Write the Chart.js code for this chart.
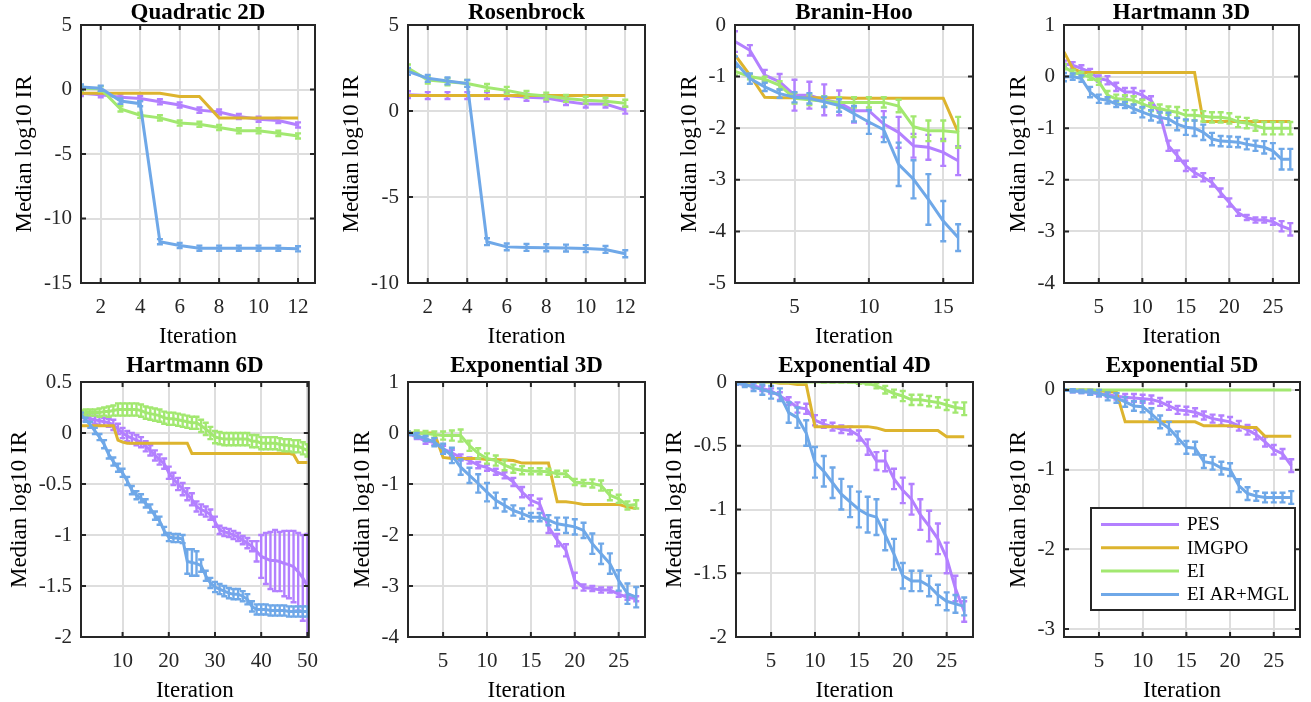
<!DOCTYPE html>
<html>
<head>
<meta charset="utf-8">
<script src="https://cdn.jsdelivr.net/npm/chart.js@4.4.1/dist/chart.umd.min.js"></script>
<style>
html, body { margin: 0; padding: 0; background: #fff; }
body { width: 1311px; height: 702px; overflow: hidden; position: relative; }
canvas { position: absolute; }
</style>
</head>
<body>
<script>
// methods, in legend order
var methods = ['PES', 'IMGPO', 'EI', 'EI AR+MGL'];

// Quadratic 2D
var quadXTicks = [2, 4, 6, 8, 10, 12];
var quadYTicks = [-15, -10, -5, 0, 5];
var quadPES   = [-0.3, -0.4, -0.6, -0.7, -0.95, -1.2, -1.6, -1.75, -2.1, -2.3, -2.4, -2.75];
var quadIMGPO = [-0.3, -0.3, -0.3, -0.3, -0.3, -0.55, -0.55, -2.2, -2.2, -2.2, -2.2, -2.2];
var quadEI    = [0.1, 0.05, -1.5, -2.0, -2.2, -2.6, -2.7, -2.95, -3.2, -3.2, -3.4, -3.6];
var quadAR    = [0.2, 0.1, -0.9, -1.1, -11.8, -12.1, -12.3, -12.3, -12.3, -12.3, -12.3, -12.35];
var quadErr   = [0.2, 0.2, 0.2, 0.2, 0.2, 0.2, 0.2, 0.2, 0.2, 0.2, 0.2, 0.2];

// Rosenbrock
var rosXTicks = [2, 4, 6, 8, 10, 12];
var rosYTicks = [-10, -5, 0, 5];
var rosPES   = [0.95, 0.9, 0.9, 0.9, 0.9, 0.9, 0.8, 0.75, 0.55, 0.4, 0.4, 0.05];
var rosIMGPO = [0.9, 0.9, 0.9, 0.9, 0.9, 0.9, 0.9, 0.9, 0.9, 0.9, 0.9, 0.9];
var rosEI    = [2.5, 1.8, 1.7, 1.6, 1.37, 1.2, 0.97, 0.87, 0.73, 0.63, 0.57, 0.45];
var rosAR    = [2.3, 1.9, 1.75, 1.6, -7.6, -7.9, -7.93, -7.95, -7.97, -8.0, -8.05, -8.3];
var rosErr   = [0.2, 0.2, 0.2, 0.2, 0.2, 0.2, 0.2, 0.2, 0.2, 0.2, 0.2, 0.2];

// Branin-Hoo
var brXTicks = [5, 10, 15];
var brYTicks = [-5, -4, -3, -2, -1, 0];
var brPES   = [-0.32, -0.49, -0.97, -1.1, -1.36, -1.36, -1.45, -1.51, -1.66, -1.66, -1.92, -2.08, -2.34, -2.37, -2.47, -2.63];
var brIMGPO = [-0.58, -0.97, -1.4, -1.41, -1.41, -1.41, -1.41, -1.41, -1.42, -1.42, -1.42, -1.42, -1.42, -1.42, -1.42, -2.08];
var brEI    = [-0.9, -1.0, -1.05, -1.17, -1.42, -1.45, -1.48, -1.5, -1.5, -1.5, -1.5, -1.57, -1.97, -2.05, -2.05, -2.08];
var brAR    = [-0.71, -1.04, -1.2, -1.33, -1.4, -1.42, -1.49, -1.56, -1.72, -1.88, -2.03, -2.7, -2.99, -3.38, -3.8, -4.12];
var brPESErr = [0.2, 0.1, 0.1, 0.15, 0.3, 0.26, 0.3, 0.24, 0.23, 0.25, 0.25, 0.3, 0.23, 0.24, 0.26, 0.28];
var brEIErr  = [0.08, 0.05, 0.05, 0.08, 0.1, 0.1, 0.1, 0.1, 0.1, 0.1, 0.1, 0.12, 0.2, 0.2, 0.2, 0.3];
var brARErr  = [0.1, 0.1, 0.08, 0.08, 0.1, 0.1, 0.1, 0.12, 0.15, 0.23, 0.24, 0.42, 0.37, 0.49, 0.39, 0.26];

// Hartmann 3D
var h3XTicks = [5, 10, 15, 20, 25];
var h3YTicks = [-4, -3, -2, -1, 0, 1];
var h3PES   = [0.25, 0.22, 0.16, 0.09, -0.04, -0.07, -0.2, -0.3, -0.3, -0.36, -0.46, -0.72, -1.34, -1.53, -1.73, -1.86, -1.95, -2.05, -2.25, -2.44, -2.64, -2.73, -2.78, -2.78, -2.81, -2.9, -2.96];
var h3IMGPO = [0.48, 0.16, 0.08, 0.08, 0.08, 0.08, 0.08, 0.08, 0.08, 0.08, 0.08, 0.08, 0.08, 0.08, 0.08, 0.08, -0.87, -0.87, -0.87, -0.87, -0.87, -0.87, -0.87, -0.87, -0.87, -0.87, -0.87];
var h3EI    = [0.19, 0.08, 0.04, -0.01, -0.1, -0.36, -0.43, -0.44, -0.46, -0.53, -0.59, -0.62, -0.66, -0.69, -0.75, -0.75, -0.77, -0.79, -0.79, -0.81, -0.88, -0.9, -0.95, -1.0, -1.0, -1.0, -1.0];
var h3AR    = [-0.01, 0, -0.04, -0.3, -0.43, -0.46, -0.53, -0.55, -0.62, -0.69, -0.75, -0.79, -0.82, -0.92, -0.98, -1.0, -1.08, -1.21, -1.25, -1.26, -1.27, -1.31, -1.34, -1.37, -1.44, -1.6, -1.6];
var h3PESErr = [0.06, 0.06, 0.06, 0.06, 0.06, 0.08, 0.08, 0.08, 0.08, 0.08, 0.08, 0.08, 0.1, 0.1, 0.1, 0.08, 0.08, 0.08, 0.08, 0.08, 0.06, 0.05, 0.05, 0.05, 0.06, 0.1, 0.12];
var h3EIErr  = [0.05, 0.05, 0.05, 0.05, 0.06, 0.08, 0.08, 0.08, 0.08, 0.08, 0.08, 0.08, 0.08, 0.1, 0.1, 0.1, 0.1, 0.1, 0.1, 0.1, 0.1, 0.1, 0.1, 0.12, 0.12, 0.12, 0.12];
var h3ARErr  = [0.08, 0.06, 0.06, 0.1, 0.08, 0.06, 0.06, 0.06, 0.08, 0.1, 0.1, 0.1, 0.12, 0.12, 0.15, 0.15, 0.15, 0.12, 0.1, 0.1, 0.1, 0.1, 0.1, 0.12, 0.15, 0.2, 0.2];

// Hartmann 6D
var h6XTicks = [10, 20, 30, 40, 50];
var h6YTicks = [-2, -1.5, -1, -0.5, 0, 0.5];
var h6PES = [0.18, 0.15, 0.14, 0.13, 0.12, 0.11, 0.1, 0.08, 0.04, 0.0,
             -0.03, -0.05, -0.07, -0.09, -0.13, -0.17, -0.22, -0.26, -0.3, -0.39,
             -0.45, -0.5, -0.55, -0.6, -0.65, -0.72, -0.75, -0.77, -0.8, -0.87,
             -0.95, -0.97, -0.98, -1.0, -1.02, -1.05, -1.08, -1.11, -1.16, -1.21,
             -1.23, -1.25, -1.25, -1.26, -1.28, -1.29, -1.31, -1.36, -1.42, -1.5];
var h6IMGPO = [0.07, 0.07, 0.07, 0.07, 0.07, 0.07, 0.07, 0.07, -0.07, -0.09,
               -0.1, -0.1, -0.1, -0.1, -0.1, -0.1, -0.1, -0.1, -0.1, -0.1,
               -0.1, -0.1, -0.1, -0.1, -0.2, -0.2, -0.2, -0.2, -0.2, -0.2,
               -0.2, -0.2, -0.2, -0.2, -0.2, -0.2, -0.2, -0.2, -0.2, -0.2,
               -0.2, -0.2, -0.2, -0.2, -0.2, -0.2, -0.21, -0.29, -0.29, -0.29];
var h6EI = [0.19, 0.2, 0.2, 0.2, 0.2, 0.21, 0.21, 0.22, 0.23, 0.23,
            0.23, 0.23, 0.23, 0.22, 0.2, 0.19, 0.18, 0.17, 0.15, 0.14,
            0.14, 0.13, 0.12, 0.11, 0.1, 0.1, 0.07, 0.04, 0.0, -0.04,
            -0.05, -0.06, -0.06, -0.06, -0.06, -0.06, -0.06, -0.08, -0.08, -0.1,
            -0.1, -0.1, -0.1, -0.11, -0.12, -0.12, -0.13, -0.13, -0.15, -0.17];
var h6AR = [0.18, 0.13, 0.08, 0.02, -0.04, -0.11, -0.21, -0.28, -0.34, -0.39,
            -0.47, -0.56, -0.61, -0.64, -0.69, -0.74, -0.81, -0.86, -0.96, -1.02,
            -1.03, -1.03, -1.04, -1.26, -1.27, -1.28, -1.3, -1.4, -1.47, -1.51,
            -1.53, -1.55, -1.57, -1.58, -1.58, -1.6, -1.63, -1.7, -1.73, -1.73,
            -1.73, -1.74, -1.74, -1.74, -1.74, -1.75, -1.75, -1.75, -1.75, -1.75];
var h6PESErr = [0.03, 0.03, 0.03, 0.04, 0.04, 0.04, 0.04, 0.05, 0.05, 0.05,
                0.05, 0.05, 0.05, 0.05, 0.05, 0.05, 0.05, 0.05, 0.05, 0.06,
                0.06, 0.06, 0.06, 0.06, 0.06, 0.05, 0.05, 0.05, 0.05, 0.05,
                0.04, 0.04, 0.04, 0.04, 0.04, 0.04, 0.05, 0.05, 0.1, 0.21,
                0.25, 0.28, 0.3, 0.29, 0.32, 0.33, 0.35, 0.38, 0.42, 0.51];
var h6EIErr = [0.03, 0.03, 0.03, 0.03, 0.04, 0.04, 0.05, 0.05, 0.06, 0.06,
               0.06, 0.06, 0.06, 0.06, 0.06, 0.06, 0.06, 0.06, 0.06, 0.06,
               0.06, 0.06, 0.06, 0.06, 0.06, 0.06, 0.06, 0.06, 0.06, 0.06,
               0.06, 0.06, 0.06, 0.06, 0.06, 0.06, 0.06, 0.06, 0.06, 0.06,
               0.06, 0.06, 0.06, 0.06, 0.06, 0.06, 0.06, 0.06, 0.06, 0.06];
var h6ARErr = [0.02, 0.02, 0.03, 0.03, 0.03, 0.04, 0.04, 0.04, 0.04, 0.04,
               0.04, 0.04, 0.04, 0.04, 0.04, 0.04, 0.04, 0.04, 0.04, 0.04,
               0.04, 0.04, 0.04, 0.12, 0.13, 0.12, 0.06, 0.05, 0.05, 0.05,
               0.05, 0.05, 0.05, 0.05, 0.05, 0.05, 0.05, 0.05, 0.05, 0.05,
               0.05, 0.05, 0.05, 0.05, 0.05, 0.05, 0.05, 0.05, 0.05, 0.05];

// Exponential 3D
var e3XTicks = [5, 10, 15, 20, 25];
var e3YTicks = [-4, -3, -2, -1, 0, 1];
var e3PES   = [-0.01, -0.08, -0.16, -0.18, -0.31, -0.39, -0.48, -0.54, -0.63, -0.68, -0.76, -0.83, -0.96, -1.16, -1.32, -1.39, -1.84, -2.1, -2.3, -2.89, -3.03, -3.05, -3.08, -3.08, -3.16, -3.22, -3.25];
var e3IMGPO = [0, 0, 0, 0, -0.48, -0.5, -0.5, -0.5, -0.5, -0.52, -0.52, -0.53, -0.54, -0.59, -0.59, -0.59, -0.59, -1.35, -1.35, -1.37, -1.4, -1.4, -1.4, -1.4, -1.4, -1.45, -1.48];
var e3EI    = [0, 0, -0.01, -0.03, -0.05, -0.05, -0.05, -0.25, -0.4, -0.5, -0.54, -0.63, -0.7, -0.73, -0.75, -0.75, -0.76, -0.8, -0.8, -0.96, -0.98, -0.99, -1.03, -1.22, -1.29, -1.42, -1.4];
var e3AR    = [-0.01, -0.05, -0.11, -0.18, -0.31, -0.44, -0.67, -0.83, -0.99, -1.16, -1.32, -1.42, -1.52, -1.58, -1.65, -1.65, -1.71, -1.78, -1.81, -1.84, -1.91, -2.17, -2.37, -2.56, -2.89, -3.15, -3.22];
var e3PESErr = [0.03, 0.04, 0.05, 0.05, 0.06, 0.06, 0.06, 0.06, 0.06, 0.06, 0.06, 0.06, 0.08, 0.1, 0.1, 0.1, 0.12, 0.12, 0.12, 0.15, 0.06, 0.05, 0.05, 0.05, 0.05, 0.05, 0.05];
var e3EIErr  = [0.03, 0.05, 0.05, 0.06, 0.08, 0.1, 0.12, 0.1, 0.1, 0.1, 0.1, 0.1, 0.08, 0.08, 0.06, 0.06, 0.06, 0.06, 0.06, 0.06, 0.06, 0.08, 0.1, 0.1, 0.08, 0.08, 0.08];
var e3ARErr  = [0.03, 0.05, 0.05, 0.08, 0.1, 0.15, 0.15, 0.15, 0.18, 0.18, 0.15, 0.12, 0.1, 0.1, 0.08, 0.08, 0.1, 0.12, 0.15, 0.15, 0.15, 0.2, 0.2, 0.2, 0.2, 0.2, 0.2];

// Exponential 4D
var e4XTicks = [5, 10, 15, 20, 25];
var e4YTicks = [-2, -1.5, -1, -0.5, 0];
var e4PES   = [-0.01, -0.02, -0.03, -0.05, -0.07, -0.11, -0.15, -0.2, -0.21, -0.3, -0.33, -0.35, -0.37, -0.38, -0.42, -0.51, -0.62, -0.62, -0.76, -0.85, -0.92, -1.04, -1.13, -1.23, -1.38, -1.62, -1.8];
var e4IMGPO = [0, 0, 0, 0, 0, -0.01, -0.01, -0.02, -0.02, -0.35, -0.35, -0.35, -0.35, -0.35, -0.35, -0.35, -0.36, -0.38, -0.38, -0.38, -0.38, -0.38, -0.38, -0.38, -0.43, -0.43, -0.43];
var e4EI    = [0, 0, 0, 0, 0, 0, 0, 0, 0, 0, 0, 0, 0, 0, -0.005, -0.01, -0.03, -0.06, -0.09, -0.11, -0.14, -0.14, -0.15, -0.16, -0.18, -0.2, -0.21];
var e4AR    = [-0.01, -0.02, -0.04, -0.06, -0.08, -0.1, -0.24, -0.28, -0.4, -0.63, -0.7, -0.79, -0.88, -0.94, -1.0, -1.04, -1.06, -1.2, -1.35, -1.52, -1.56, -1.56, -1.6, -1.67, -1.72, -1.74, -1.76];
var e4PESErr = [0.01, 0.01, 0.02, 0.02, 0.02, 0.03, 0.03, 0.04, 0.04, 0.04, 0.03, 0.03, 0.03, 0.03, 0.04, 0.06, 0.07, 0.08, 0.08, 0.1, 0.12, 0.12, 0.12, 0.12, 0.12, 0.1, 0.08];
var e4EIErr  = [0, 0, 0, 0, 0, 0, 0, 0, 0, 0, 0.005, 0.005, 0.005, 0.005, 0.01, 0.01, 0.02, 0.03, 0.03, 0.04, 0.04, 0.04, 0.04, 0.04, 0.04, 0.04, 0.05];
var e4ARErr  = [0.01, 0.02, 0.03, 0.04, 0.05, 0.05, 0.08, 0.08, 0.1, 0.12, 0.12, 0.12, 0.12, 0.12, 0.14, 0.14, 0.14, 0.12, 0.12, 0.1, 0.08, 0.08, 0.08, 0.08, 0.07, 0.07, 0.07];

// Exponential 5D
var e5XTicks = [5, 10, 15, 20, 25];
var e5YTicks = [-3, -2, -1, 0];
var e5PES   = [0, -0.01, -0.02, -0.03, -0.05, -0.06, -0.08, -0.09, -0.1, -0.11, -0.12, -0.15, -0.2, -0.25, -0.26, -0.28, -0.32, -0.36, -0.38, -0.4, -0.45, -0.5, -0.56, -0.65, -0.75, -0.8, -0.95];
var e5IMGPO = [0, 0, 0, 0, -0.01, -0.02, -0.03, -0.4, -0.4, -0.4, -0.4, -0.4, -0.4, -0.4, -0.4, -0.4, -0.45, -0.45, -0.45, -0.45, -0.46, -0.47, -0.47, -0.58, -0.58, -0.58, -0.58];
var e5EI    = [0, 0, 0, 0, 0, 0, 0, 0, 0, 0, 0, 0, 0, 0, 0, 0, 0, 0, 0, 0, 0, 0, 0, 0, 0, 0, 0];
var e5AR    = [0, -0.01, -0.02, -0.03, -0.04, -0.08, -0.1, -0.15, -0.2, -0.21, -0.3, -0.4, -0.48, -0.6, -0.72, -0.73, -0.9, -0.92, -0.98, -1.0, -1.2, -1.3, -1.33, -1.35, -1.35, -1.35, -1.35];
var e5PESErr = [0.01, 0.02, 0.02, 0.03, 0.03, 0.03, 0.04, 0.04, 0.05, 0.05, 0.05, 0.05, 0.05, 0.05, 0.05, 0.05, 0.05, 0.05, 0.06, 0.06, 0.06, 0.06, 0.06, 0.06, 0.06, 0.06, 0.08];
var e5ARErr  = [0.01, 0.02, 0.02, 0.03, 0.04, 0.05, 0.06, 0.06, 0.06, 0.07, 0.07, 0.08, 0.08, 0.08, 0.08, 0.08, 0.08, 0.08, 0.08, 0.08, 0.08, 0.08, 0.06, 0.06, 0.06, 0.06, 0.08];

var colors = ['#b380ff', '#ddb42e', '#a2e870', '#6fa8e8'];
var FONT = '"Liberation Serif", "Times New Roman", serif';
var GRID = '#dedede';
var AXIS = '#262626';

// canvas margins round each axes box
var PAD_L = 90, PAD_T = 30, PAD_R = 14, PAD_B = 72;

// axes boxes on the page
var panels = [
    { title: 'Quadratic 2D', l: 81, t: 25, r: 315, b: 283, xMax: 12.86, xTicks: quadXTicks, yMin: -15, yMax: 5, yTicks: quadYTicks, titleGap: 6,
      series: [quadPES, quadIMGPO, quadEI, quadAR], errors: [quadErr, null, quadErr, quadErr] },
    { title: 'Rosenbrock', l: 408, t: 25, r: 645, b: 283, xMax: 13, xTicks: rosXTicks, yMin: -10, yMax: 5, yTicks: rosYTicks, titleGap: 6,
      series: [rosPES, rosIMGPO, rosEI, rosAR], errors: [rosErr, null, rosErr, rosErr] },
    { title: 'Branin-Hoo', l: 735, t: 25, r: 973, b: 283, xMax: 17, xTicks: brXTicks, yMin: -5, yMax: 0, yTicks: brYTicks, titleGap: 6,
      series: [brPES, brIMGPO, brEI, brAR], errors: [brPESErr, null, brEIErr, brARErr] },
    { title: 'Hartmann 3D', l: 1064, t: 25, r: 1299, b: 283, xMax: 28, xTicks: h3XTicks, yMin: -4, yMax: 1, yTicks: h3YTicks, titleGap: 6,
      series: [h3PES, h3IMGPO, h3EI, h3AR], errors: [h3PESErr, null, h3EIErr, h3ARErr] },
    { title: 'Hartmann 6D', l: 81, t: 382, r: 316, b: 637, xMax: 50.3, xTicks: h6XTicks, yMin: -2, yMax: 0.5, yTicks: h6YTicks, titleGap: 10,
      series: [h6PES, h6IMGPO, h6EI, h6AR], errors: [h6PESErr, null, h6EIErr, h6ARErr] },
    { title: 'Exponential 3D', l: 408, t: 382, r: 645, b: 637, xMax: 28, xTicks: e3XTicks, yMin: -4, yMax: 1, yTicks: e3YTicks, titleGap: 10,
      series: [e3PES, e3IMGPO, e3EI, e3AR], errors: [e3PESErr, null, e3EIErr, e3ARErr] },
    { title: 'Exponential 4D', l: 736, t: 382, r: 973, b: 637, xMax: 28, xTicks: e4XTicks, yMin: -2, yMax: 0, yTicks: e4YTicks, titleGap: 10,
      series: [e4PES, e4IMGPO, e4EI, e4AR], errors: [e4PESErr, null, e4EIErr, e4ARErr] },
    { title: 'Exponential 5D', l: 1064, t: 382, r: 1300, b: 637, xMax: 28, xTicks: e5XTicks, yMin: -3.1, yMax: 0.1, yTicks: e5YTicks, titleGap: 10,
      series: [e5PES, e5IMGPO, e5EI, e5AR], errors: [e5PESErr, null, null, e5ARErr], legend: true }
];

// vertical error bars with small caps, drawn right after their line
var errorBars = {
    id: 'errorBars',
    afterDatasetDraw: function (chart, args) {
        var ds = chart.data.datasets[args.index];
        if (!ds.errors) return;
        var xs = chart.scales.x, ys = chart.scales.y, a = chart.chartArea;
        var ctx = chart.ctx;
        ctx.save();
        ctx.beginPath();
        ctx.rect(a.left, a.top, a.right - a.left, a.bottom - a.top);
        ctx.clip();
        ctx.strokeStyle = ds.borderColor;
        ctx.lineWidth = 2.4;
        var cap = 3;
        ds.data.forEach(function (p, i) {
            var e = ds.errors[i];
            if (!e) return;
            var px = xs.getPixelForValue(p.x);
            var y1 = ys.getPixelForValue(p.y + e);
            var y2 = ys.getPixelForValue(p.y - e);
            ctx.beginPath();
            ctx.moveTo(px, y1); ctx.lineTo(px, y2);
            ctx.moveTo(px - cap, y1); ctx.lineTo(px + cap, y1);
            ctx.moveTo(px - cap, y2); ctx.lineTo(px + cap, y2);
            ctx.stroke();
        });
        ctx.restore();
    }
};

// MATLAB-like box, inward ticks, titles and legend
var frame = {
    id: 'frame',
    afterDraw: function (chart, args, opts) {
        var ctx = chart.ctx, a = chart.chartArea;
        var xs = chart.scales.x, ys = chart.scales.y;
        ctx.save();
        ctx.strokeStyle = AXIS;
        ctx.lineWidth = 2;
        ctx.strokeRect(a.left, a.top, a.right - a.left, a.bottom - a.top);
        ctx.beginPath();
        xs.ticks.forEach(function (t) {
            var px = xs.getPixelForValue(t.value);
            ctx.moveTo(px, a.bottom); ctx.lineTo(px, a.bottom - 5);
            ctx.moveTo(px, a.top); ctx.lineTo(px, a.top + 5);
        });
        ys.ticks.forEach(function (t) {
            var py = ys.getPixelForValue(t.value);
            ctx.moveTo(a.left, py); ctx.lineTo(a.left + 5, py);
            ctx.moveTo(a.right, py); ctx.lineTo(a.right - 5, py);
        });
        ctx.stroke();

        var cx = (a.left + a.right) / 2;
        ctx.fillStyle = '#000';
        ctx.textAlign = 'center';
        ctx.textBaseline = 'alphabetic';
        ctx.font = 'bold 23px ' + FONT;
        ctx.fillText(opts.title, cx, a.top - opts.titleGap);
        ctx.font = '23px ' + FONT;
        ctx.fillText('Iteration', cx, a.bottom + 60);

        // y label sits left of the widest tick label
        ctx.font = '21px ' + FONT;
        var wmax = 0;
        ys.ticks.forEach(function (t) { wmax = Math.max(wmax, ctx.measureText(t.label).width); });
        ctx.save();
        ctx.translate(a.left - 9 - wmax - 13, (a.top + a.bottom) / 2);
        ctx.rotate(-Math.PI / 2);
        ctx.font = '23px ' + FONT;
        ctx.fillText('Median log10 IR', 0, 0);
        ctx.restore();

        if (opts.legend) {
            var bw = 204, bh = 102;
            var bx = a.right - 5 - bw, by = a.bottom - 27 - bh;
            ctx.fillStyle = '#fff';
            ctx.fillRect(bx, by, bw, bh);
            ctx.strokeStyle = AXIS;
            ctx.lineWidth = 2;
            ctx.strokeRect(bx, by, bw, bh);
            ctx.font = '19px ' + FONT;
            ctx.textAlign = 'left';
            ctx.textBaseline = 'middle';
            chart.data.datasets.forEach(function (ds, k) {
                var yy = by + 16.5 + k * 23.3;
                ctx.strokeStyle = ds.borderColor;
                ctx.lineWidth = 3;
                ctx.beginPath();
                ctx.moveTo(bx + 10, yy); ctx.lineTo(bx + 88, yy);
                ctx.stroke();
                ctx.fillStyle = '#000';
                ctx.fillText(ds.label, bx + 96, yy + 1);
            });
        }
        ctx.restore();
    }
};

function makeChart(p) {
    var cv = document.createElement('canvas');
    var w = p.r - p.l + PAD_L + PAD_R, h = p.b - p.t + PAD_T + PAD_B;
    cv.width = w; cv.height = h;
    cv.style.width = w + 'px'; cv.style.height = h + 'px';
    cv.style.left = (p.l - PAD_L) + 'px';
    cv.style.top = (p.t - PAD_T) + 'px';
    document.body.appendChild(cv);

    var datasets = p.series.map(function (vals, k) {
        return {
            label: methods[k],
            data: vals.map(function (v, j) { return { x: j + 1, y: v }; }),
            errors: p.errors[k],
            borderColor: colors[k],
            backgroundColor: colors[k],
            borderWidth: 3,
            pointRadius: 0,
            tension: 0,
            fill: false,
            order: 4 - k
        };
    });

    var tickFont = { family: FONT, size: 21 };

    new Chart(cv, {
        type: 'line',
        data: { datasets: datasets },
        options: {
            responsive: false,
            animation: false,
            devicePixelRatio: 1,
            layout: { padding: { left: 0, top: PAD_T, right: PAD_R, bottom: 0 } },
            plugins: {
                legend: { display: false },
                tooltip: { enabled: false },
                frame: { title: p.title, titleGap: p.titleGap, legend: !!p.legend }
            },
            scales: {
                x: {
                    type: 'linear',
                    min: 1,
                    max: p.xMax,
                    afterBuildTicks: function (ax) { ax.ticks = p.xTicks.map(function (v) { return { value: v }; }); },
                    afterFit: function (ax) { ax.height = PAD_B; },
                    grid: { color: GRID, lineWidth: 2, drawTicks: false },
                    border: { display: false },
                    ticks: { padding: 12, font: tickFont, color: AXIS, autoSkip: false, maxRotation: 0,
                             callback: function (v) { return String(v); } }
                },
                y: {
                    type: 'linear',
                    min: p.yMin,
                    max: p.yMax,
                    afterBuildTicks: function (ax) { ax.ticks = p.yTicks.map(function (v) { return { value: v }; }); },
                    afterFit: function (ax) { ax.width = PAD_L; },
                    grid: { color: GRID, lineWidth: 2, drawTicks: false },
                    border: { display: false },
                    ticks: { padding: 9, font: tickFont, color: AXIS, autoSkip: false,
                             callback: function (v) { return String(v); } }
                }
            }
        },
        plugins: [errorBars, frame]
    });
}

panels.forEach(makeChart);
</script>
</body>
</html>
